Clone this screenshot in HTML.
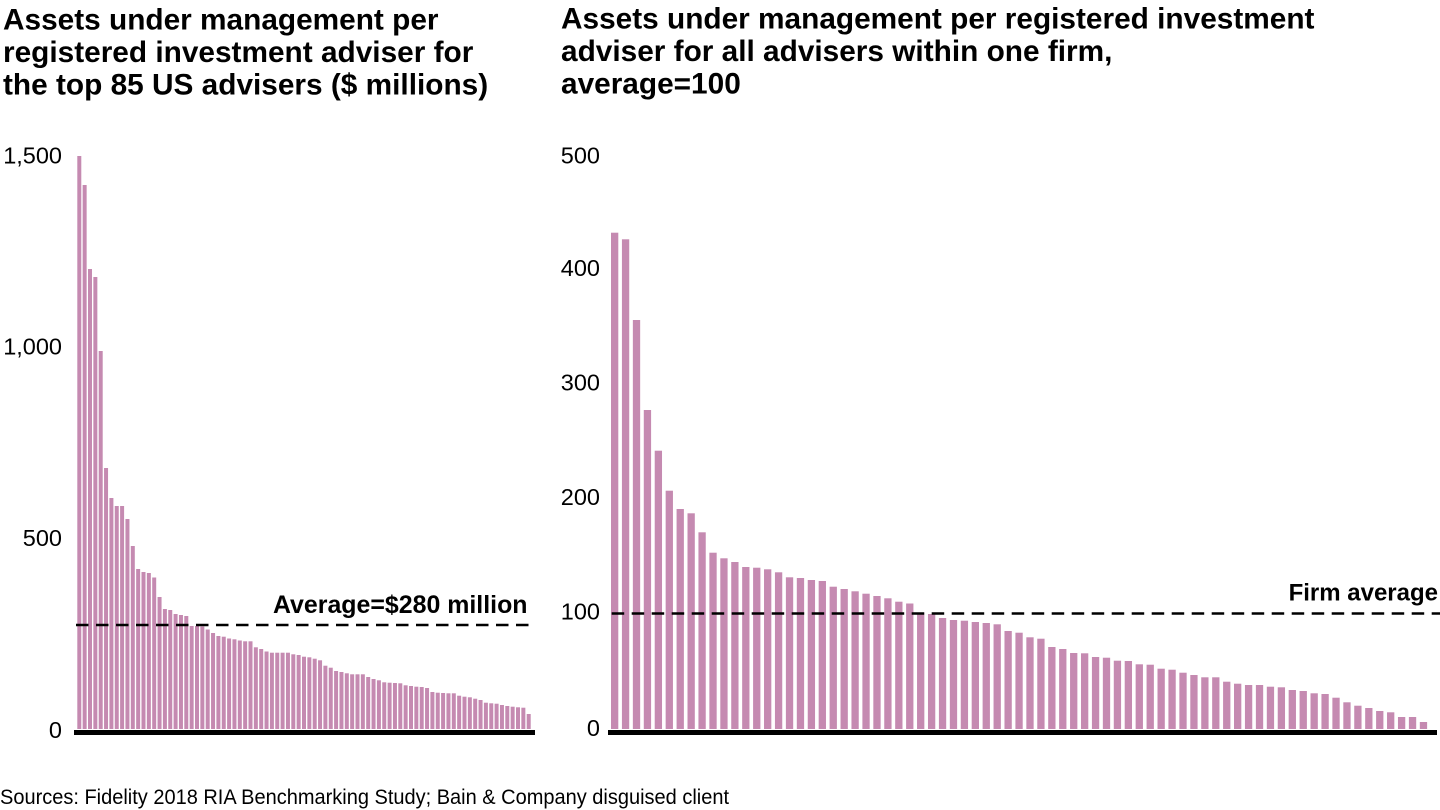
<!DOCTYPE html>
<html><head><meta charset="utf-8"><style>
html,body{margin:0;padding:0;background:#fff;width:1440px;height:810px;overflow:hidden;}
svg{display:block;}
text{font-family:"Liberation Sans",Arial,sans-serif;fill:#000;}
.t{font-size:29.8px;font-weight:bold;}
.y{font-size:23.5px;}
.lb{font-size:24px;font-weight:bold;}
</style></head><body>
<svg width="1440" height="810" viewBox="0 0 1440 810" xmlns="http://www.w3.org/2000/svg">
<defs><clipPath id="c"><rect x="0" y="0" width="1440" height="729"/></clipPath></defs>
<text class="t" x="3" y="29.5">Assets under management per</text>
<text class="t" x="3" y="62">registered investment adviser for</text>
<text class="t" x="3" y="94.5">the top 85 US advisers ($ millions)</text>
<text class="t" x="561" y="28.5">Assets under management per registered investment</text>
<text class="t" x="561" y="61">adviser for all advisers within one firm,</text>
<text class="t" x="561" y="93.5">average=100</text>
<text class="y" x="62" y="163.4" text-anchor="end">1,500</text>
<text class="y" x="62" y="354.6" text-anchor="end">1,000</text>
<text class="y" x="62" y="545.8" text-anchor="end">500</text>
<text class="y" x="62" y="738" text-anchor="end">0</text>
<text class="y" x="600" y="163.4" text-anchor="end">500</text>
<text class="y" x="600" y="275.9" text-anchor="end">400</text>
<text class="y" x="600" y="390.5" text-anchor="end">300</text>
<text class="y" x="600" y="505" text-anchor="end">200</text>
<text class="y" x="600" y="619.6" text-anchor="end">100</text>
<text class="y" x="600" y="736" text-anchor="end">0</text>
<g fill="#C58AB1" clip-path="url(#c)">
<rect x="77.3" y="156" width="4" height="600"/>
<rect x="82.65" y="185" width="4" height="600"/>
<rect x="88" y="269" width="4" height="600"/>
<rect x="93.35" y="277" width="4" height="600"/>
<rect x="98.7" y="351" width="4" height="600"/>
<rect x="104.05" y="468" width="4" height="600"/>
<rect x="109.4" y="498" width="4" height="600"/>
<rect x="114.75" y="506" width="4" height="600"/>
<rect x="120.1" y="506" width="4" height="600"/>
<rect x="125.45" y="519" width="4" height="600"/>
<rect x="130.8" y="546" width="4" height="600"/>
<rect x="136.15" y="569" width="4" height="600"/>
<rect x="141.5" y="572" width="4" height="600"/>
<rect x="146.85" y="573" width="4" height="600"/>
<rect x="152.2" y="577.5" width="4" height="600"/>
<rect x="157.55" y="597" width="4" height="600"/>
<rect x="162.9" y="609" width="4" height="600"/>
<rect x="168.25" y="610" width="4" height="600"/>
<rect x="173.6" y="614" width="4" height="600"/>
<rect x="178.95" y="615" width="4" height="600"/>
<rect x="184.3" y="616" width="4" height="600"/>
<rect x="189.65" y="626" width="4" height="600"/>
<rect x="195" y="626" width="4" height="600"/>
<rect x="200.35" y="626.5" width="4" height="600"/>
<rect x="205.7" y="629.5" width="4" height="600"/>
<rect x="211.05" y="633" width="4" height="600"/>
<rect x="216.4" y="636" width="4" height="600"/>
<rect x="221.75" y="636.7" width="4" height="600"/>
<rect x="227.1" y="638.5" width="4" height="600"/>
<rect x="232.45" y="639.3" width="4" height="600"/>
<rect x="237.8" y="640.5" width="4" height="600"/>
<rect x="243.15" y="641.3" width="4" height="600"/>
<rect x="248.5" y="641.3" width="4" height="600"/>
<rect x="253.85" y="647.3" width="4" height="600"/>
<rect x="259.2" y="649" width="4" height="600"/>
<rect x="264.55" y="651.5" width="4" height="600"/>
<rect x="269.9" y="652.7" width="4" height="600"/>
<rect x="275.25" y="652.7" width="4" height="600"/>
<rect x="280.6" y="652.7" width="4" height="600"/>
<rect x="285.95" y="652.7" width="4" height="600"/>
<rect x="291.3" y="654.3" width="4" height="600"/>
<rect x="296.65" y="655" width="4" height="600"/>
<rect x="302" y="656.7" width="4" height="600"/>
<rect x="307.35" y="657.3" width="4" height="600"/>
<rect x="312.7" y="658.7" width="4" height="600"/>
<rect x="318.05" y="660.3" width="4" height="600"/>
<rect x="323.4" y="665.7" width="4" height="600"/>
<rect x="328.75" y="667.7" width="4" height="600"/>
<rect x="334.1" y="671" width="4" height="600"/>
<rect x="339.45" y="672" width="4" height="600"/>
<rect x="344.8" y="673.3" width="4" height="600"/>
<rect x="350.15" y="674.3" width="4" height="600"/>
<rect x="355.5" y="674.3" width="4" height="600"/>
<rect x="360.85" y="674.3" width="4" height="600"/>
<rect x="366.2" y="677" width="4" height="600"/>
<rect x="371.55" y="679" width="4" height="600"/>
<rect x="376.9" y="680.3" width="4" height="600"/>
<rect x="382.25" y="682.3" width="4" height="600"/>
<rect x="387.6" y="682.7" width="4" height="600"/>
<rect x="392.95" y="683" width="4" height="600"/>
<rect x="398.3" y="683.3" width="4" height="600"/>
<rect x="403.65" y="685.3" width="4" height="600"/>
<rect x="409" y="686" width="4" height="600"/>
<rect x="414.35" y="686.7" width="4" height="600"/>
<rect x="419.7" y="687" width="4" height="600"/>
<rect x="425.05" y="688" width="4" height="600"/>
<rect x="430.4" y="692" width="4" height="600"/>
<rect x="435.75" y="692.7" width="4" height="600"/>
<rect x="441.1" y="693" width="4" height="600"/>
<rect x="446.45" y="693.3" width="4" height="600"/>
<rect x="451.8" y="693.3" width="4" height="600"/>
<rect x="457.15" y="695.7" width="4" height="600"/>
<rect x="462.5" y="696.7" width="4" height="600"/>
<rect x="467.85" y="697.3" width="4" height="600"/>
<rect x="473.2" y="698.7" width="4" height="600"/>
<rect x="478.55" y="700" width="4" height="600"/>
<rect x="483.9" y="702.7" width="4" height="600"/>
<rect x="489.25" y="703.3" width="4" height="600"/>
<rect x="494.6" y="703.7" width="4" height="600"/>
<rect x="499.95" y="705" width="4" height="600"/>
<rect x="505.3" y="706" width="4" height="600"/>
<rect x="510.65" y="706.7" width="4" height="600"/>
<rect x="516" y="707.3" width="4" height="600"/>
<rect x="521.35" y="707.7" width="4" height="600"/>
<rect x="526.7" y="714" width="4" height="600"/>

<rect x="611" y="232.7" width="7.3" height="600"/>
<rect x="621.93" y="239.3" width="7.3" height="600"/>
<rect x="632.86" y="320" width="7.3" height="600"/>
<rect x="643.79" y="410" width="7.3" height="600"/>
<rect x="654.72" y="450.7" width="7.3" height="600"/>
<rect x="665.65" y="490.7" width="7.3" height="600"/>
<rect x="676.58" y="509" width="7.3" height="600"/>
<rect x="687.51" y="513.3" width="7.3" height="600"/>
<rect x="698.44" y="532.3" width="7.3" height="600"/>
<rect x="709.37" y="552.7" width="7.3" height="600"/>
<rect x="720.3" y="558.3" width="7.3" height="600"/>
<rect x="731.23" y="562" width="7.3" height="600"/>
<rect x="742.16" y="567" width="7.3" height="600"/>
<rect x="753.09" y="567.7" width="7.3" height="600"/>
<rect x="764.02" y="569.3" width="7.3" height="600"/>
<rect x="774.95" y="572.3" width="7.3" height="600"/>
<rect x="785.88" y="577.3" width="7.3" height="600"/>
<rect x="796.81" y="578" width="7.3" height="600"/>
<rect x="807.74" y="580" width="7.3" height="600"/>
<rect x="818.67" y="581" width="7.3" height="600"/>
<rect x="829.6" y="586.7" width="7.3" height="600"/>
<rect x="840.53" y="589" width="7.3" height="600"/>
<rect x="851.46" y="591.3" width="7.3" height="600"/>
<rect x="862.39" y="593.7" width="7.3" height="600"/>
<rect x="873.32" y="596" width="7.3" height="600"/>
<rect x="884.25" y="598.3" width="7.3" height="600"/>
<rect x="895.18" y="601.7" width="7.3" height="600"/>
<rect x="906.11" y="603.5" width="7.3" height="600"/>
<rect x="917.04" y="612.5" width="7.3" height="600"/>
<rect x="927.97" y="614" width="7.3" height="600"/>
<rect x="938.9" y="618" width="7.3" height="600"/>
<rect x="949.83" y="620" width="7.3" height="600"/>
<rect x="960.76" y="620.7" width="7.3" height="600"/>
<rect x="971.69" y="622" width="7.3" height="600"/>
<rect x="982.62" y="623" width="7.3" height="600"/>
<rect x="993.55" y="624.3" width="7.3" height="600"/>
<rect x="1004.48" y="631" width="7.3" height="600"/>
<rect x="1015.41" y="632.7" width="7.3" height="600"/>
<rect x="1026.34" y="637.3" width="7.3" height="600"/>
<rect x="1037.27" y="638.7" width="7.3" height="600"/>
<rect x="1048.2" y="647" width="7.3" height="600"/>
<rect x="1059.13" y="649" width="7.3" height="600"/>
<rect x="1070.06" y="653" width="7.3" height="600"/>
<rect x="1080.99" y="653.3" width="7.3" height="600"/>
<rect x="1091.92" y="657" width="7.3" height="600"/>
<rect x="1102.85" y="657.7" width="7.3" height="600"/>
<rect x="1113.78" y="660.7" width="7.3" height="600"/>
<rect x="1124.71" y="661" width="7.3" height="600"/>
<rect x="1135.64" y="664.3" width="7.3" height="600"/>
<rect x="1146.57" y="664.7" width="7.3" height="600"/>
<rect x="1157.5" y="668.7" width="7.3" height="600"/>
<rect x="1168.43" y="669.7" width="7.3" height="600"/>
<rect x="1179.36" y="672.7" width="7.3" height="600"/>
<rect x="1190.29" y="675" width="7.3" height="600"/>
<rect x="1201.22" y="677.3" width="7.3" height="600"/>
<rect x="1212.15" y="677.3" width="7.3" height="600"/>
<rect x="1223.08" y="681.7" width="7.3" height="600"/>
<rect x="1234.01" y="683.7" width="7.3" height="600"/>
<rect x="1244.94" y="685" width="7.3" height="600"/>
<rect x="1255.87" y="685" width="7.3" height="600"/>
<rect x="1266.8" y="686.7" width="7.3" height="600"/>
<rect x="1277.73" y="687.3" width="7.3" height="600"/>
<rect x="1288.66" y="690" width="7.3" height="600"/>
<rect x="1299.59" y="691" width="7.3" height="600"/>
<rect x="1310.52" y="693.3" width="7.3" height="600"/>
<rect x="1321.45" y="694" width="7.3" height="600"/>
<rect x="1332.38" y="697.7" width="7.3" height="600"/>
<rect x="1343.31" y="702.3" width="7.3" height="600"/>
<rect x="1354.24" y="705.7" width="7.3" height="600"/>
<rect x="1365.17" y="708" width="7.3" height="600"/>
<rect x="1376.1" y="711" width="7.3" height="600"/>
<rect x="1387.03" y="712.3" width="7.3" height="600"/>
<rect x="1397.96" y="717" width="7.3" height="600"/>
<rect x="1408.89" y="717" width="7.3" height="600"/>
<rect x="1419.82" y="722" width="7.3" height="600"/>
</g>
<rect x="74" y="730" width="461" height="5" fill="#000"/>
<rect x="608" y="730" width="829" height="5" fill="#000"/>
<line x1="76" y1="625" x2="528.5" y2="625" stroke="#000" stroke-width="2.6" stroke-dasharray="12.5 7.5"/>
<line x1="611.7" y1="613.5" x2="1440" y2="613.5" stroke="#000" stroke-width="2.6" stroke-dasharray="12.5 7.5"/>
<text class="lb" x="273" y="613" font-size="24.8" textLength="254.5" lengthAdjust="spacingAndGlyphs" style="font-size:24.8px">Average=$280 million</text>
<text class="lb" x="1438" y="600.7" text-anchor="end">Firm average</text>
<text x="0" y="804" font-size="21" textLength="729" lengthAdjust="spacingAndGlyphs">Sources: Fidelity 2018 RIA Benchmarking Study; Bain &amp; Company disguised client</text>
</svg>
</body></html>
